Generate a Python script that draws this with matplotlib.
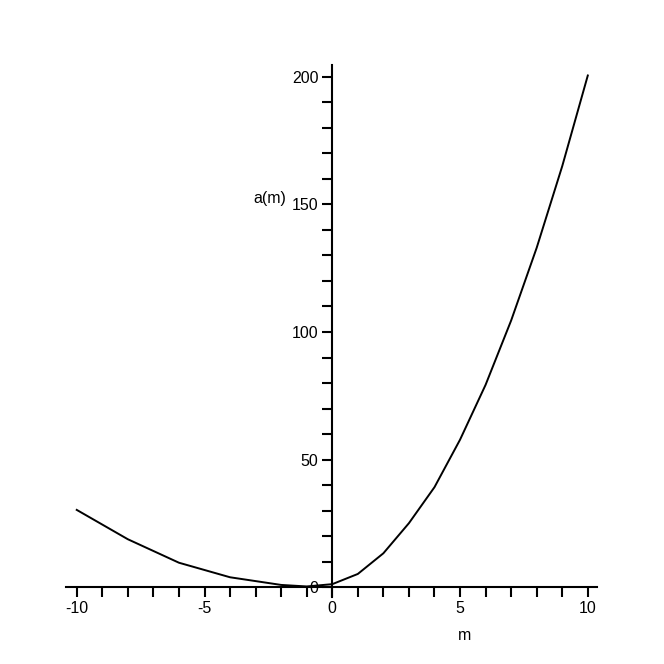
import matplotlib
matplotlib.use("Agg")
import matplotlib.pyplot as plt
from matplotlib.ticker import MultipleLocator

plt.rcParams['font.family'] = ['Liberation Sans', 'DejaVu Sans']

m_vals = [-10, -8, -6, -4, -2, -1, 0, 1, 2, 3, 4, 5, 6, 7, 8, 9, 10]
a_vals = [30.3, 18.8, 9.6, 3.9, 0.9, 0.3, 1.2, 5.2, 13.3, 25.1, 39.2, 57.8,
          79.3, 104.5, 133.0, 165.0, 200.5]
x_ticks = [-10, -5, 0, 5, 10]
x_labels = ['-10', '-5', '0', '5', '10']
y_ticks = [0, 50, 100, 150, 200]
y_labels = ['0', '50', '100', '150', '200']

fig = plt.figure(figsize=(6.64, 6.64), dpi=100)
ax = fig.add_axes([0.0994, 0.1014, 0.7997, 0.8003])
ax.plot(m_vals, a_vals, color='black', lw=1.4)
ax.set_xlim(-10.42, 10.36)
ax.set_ylim(-3.7, 204.5)

for s in ['top', 'right']:
    ax.spines[s].set_visible(False)
ax.spines['left'].set_position(('data', 0))
ax.spines['bottom'].set_position(('data', 0))
ax.spines['left'].set_linewidth(1.5)
ax.spines['bottom'].set_linewidth(1.5)

ax.set_xticks(x_ticks)
ax.set_xticklabels(x_labels)
ax.set_yticks(y_ticks)
ax.set_yticklabels(y_labels)
ax.xaxis.set_minor_locator(MultipleLocator(1))
ax.yaxis.set_minor_locator(MultipleLocator(10))
ax.tick_params(axis='x', which='both', direction='out', length=7, width=1.5,
               labelsize=11.5, pad=3)
ax.tick_params(axis='y', which='both', direction='out', length=7, width=1.5,
               labelsize=11.5, pad=3)

fig.text(465 / 664, 1 - 635 / 664, 'm', fontsize=11.5, ha='center', va='center')
fig.text(270 / 664, 1 - 199 / 664, 'a(m)', fontsize=11.5, ha='center', va='center')

fig.savefig('out.png', dpi=100)
